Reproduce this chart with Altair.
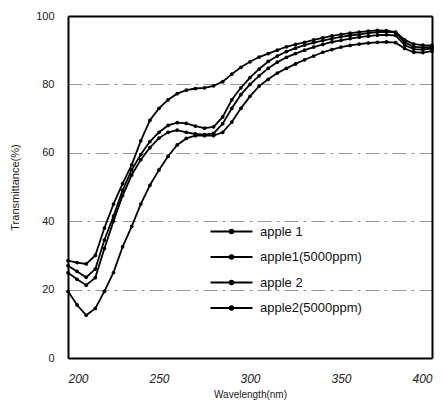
import altair as alt
import pandas as pd

wavelength = list(range(200, 405, 5))

apple1 = [28.5, 27.9, 27.5, 30.0, 38.0, 45.0, 51.0, 56.5, 63.5, 69.5, 73.0, 75.5, 77.3, 78.3,
          78.8, 79.0, 79.6, 80.8, 83.0, 85.0, 86.6, 88.0, 89.0, 90.0, 91.0, 91.7, 92.3, 93.0,
          93.6, 94.2, 94.6, 95.0, 95.3, 95.6, 95.8, 95.7, 95.3, 93.0, 91.8, 91.5, 91.4]
apple1_5000 = [27.0, 25.3, 23.6, 26.0, 34.5, 41.5, 49.0, 55.0, 59.5, 63.3, 66.0, 68.0, 68.8, 68.6,
               67.8, 67.2, 67.6, 70.5, 75.5, 79.0, 82.0, 84.5, 86.7, 88.3, 89.6, 90.6, 91.5, 92.2,
               92.8, 93.4, 93.9, 94.3, 94.6, 95.0, 95.3, 95.4, 95.2, 92.3, 91.0, 90.8, 91.0]
apple2 = [24.9, 23.0, 21.3, 23.5, 32.0, 40.0, 47.5, 53.5, 58.0, 61.5, 64.3, 66.0, 66.6, 66.0,
          65.5, 65.3, 65.7, 68.5, 73.0, 77.0, 80.0, 82.5, 84.7, 86.5, 87.9, 89.0, 90.0, 90.9,
          91.7, 92.4, 92.9, 93.4, 93.8, 94.1, 94.4, 94.5, 94.3, 91.5, 90.3, 90.2, 90.5]
apple2_5000 = [19.5, 15.5, 12.5, 14.5, 19.5, 25.0, 32.5, 38.5, 45.0, 50.5, 55.0, 59.0, 62.3, 64.2,
               65.0, 65.0, 65.0, 66.0, 69.0, 73.0, 76.5, 79.5, 81.5, 83.3, 84.7, 86.0, 87.2, 88.3,
               89.4, 90.2, 90.9, 91.4, 91.8, 92.1, 92.3, 92.4, 92.2, 90.5, 89.4, 89.3, 89.7]

labels = ["apple 1", "apple1(5000ppm)", "apple 2", "apple2(5000ppm)"]
series = [apple1, apple1_5000, apple2, apple2_5000]

rows = []
for name, vals in zip(labels, series):
    for w, v in zip(wavelength, vals):
        rows.append({"wavelength": w, "T": v, "series": name})
df = pd.DataFrame(rows)

FONT = "Liberation Sans"

# line with a dot in the middle; spans -2..2 so it is twice as wide as the nominal symbol box
legend_symbol = "M-2,0L2,0M-0.18,0A0.18,0.18,0,1,1,0.18,0A0.18,0.18,0,1,1,-0.18,0Z"

xscale = alt.Scale(domain=[200, 400], nice=False, zero=False)
yscale = alt.Scale(domain=[0, 100], nice=False)

lines = alt.Chart(df).mark_line(
    strokeWidth=1.8,
    point=alt.OverlayMarkDef(filled=True, size=14, color="black"),
).encode(
    x=alt.X("wavelength:Q", scale=xscale,
            axis=alt.Axis(title="Wavelength(nm)", values=[200, 250, 300, 350, 400],
                          grid=False, ticks=False,
                          domain=True, domainColor="black", domainWidth=2,
                          labelFont=FONT, labelFontSize=12, labelFontStyle="italic",
                          labelColor="#222", labelPadding=15,
                          titleFont=FONT, titleFontSize=10, titleFontWeight="normal",
                          titleColor="#222", titlePadding=5)),
    y=alt.Y("T:Q", scale=yscale,
            axis=alt.Axis(title="Transmittance(%)", values=[0, 20, 40, 60, 80, 100],
                          grid=True, gridColor="#999", gridDash=[14, 5, 3, 5], gridWidth=1,
                          ticks=False,
                          domain=True, domainColor="black", domainWidth=2,
                          labelFont=FONT, labelFontSize=11, labelColor="#222", labelPadding=14,
                          titleFont=FONT, titleFontSize=11, titleFontWeight="normal",
                          titleColor="#222", titlePadding=15)),
    color=alt.Color("series:N", sort=labels,
                    scale=alt.Scale(domain=labels, range=["black"] * 4),
                    legend=alt.Legend(title=None, orient="none", legendX=152, legendY=204,
                                      symbolType=legend_symbol, symbolSize=441,
                                      symbolStrokeWidth=1.8, symbolFillColor="black",
                                      symbolStrokeColor="black",
                                      labelFont=FONT, labelFontSize=13, labelColor="#111",
                                      rowPadding=6.5, labelOffset=17)),
    detail="series:N",
)

frame = alt.Chart(df).mark_line(opacity=0).encode(
    x=alt.X("wavelength:Q", scale=xscale,
            axis=alt.Axis(orient="top", title=None, labels=False, ticks=False, grid=False,
                          domain=True, domainColor="black", domainWidth=2)),
    y=alt.Y("T:Q", scale=yscale,
            axis=alt.Axis(orient="right", title=None, labels=False, ticks=False, grid=False,
                          domain=True, domainColor="black", domainWidth=2)),
    detail="series:N",
)

chart = alt.layer(lines, frame).resolve_axis(
    x="independent", y="independent"
).properties(
    width=364, height=342,
    autosize=alt.AutoSizeParams(type="none"),
    padding={"left": 60, "top": 8, "right": 3, "bottom": 43},
).configure(
    background="white"
).configure_view(
    stroke=None
)

chart.save("out.html", embed_options={"renderer": "svg", "actions": False})
